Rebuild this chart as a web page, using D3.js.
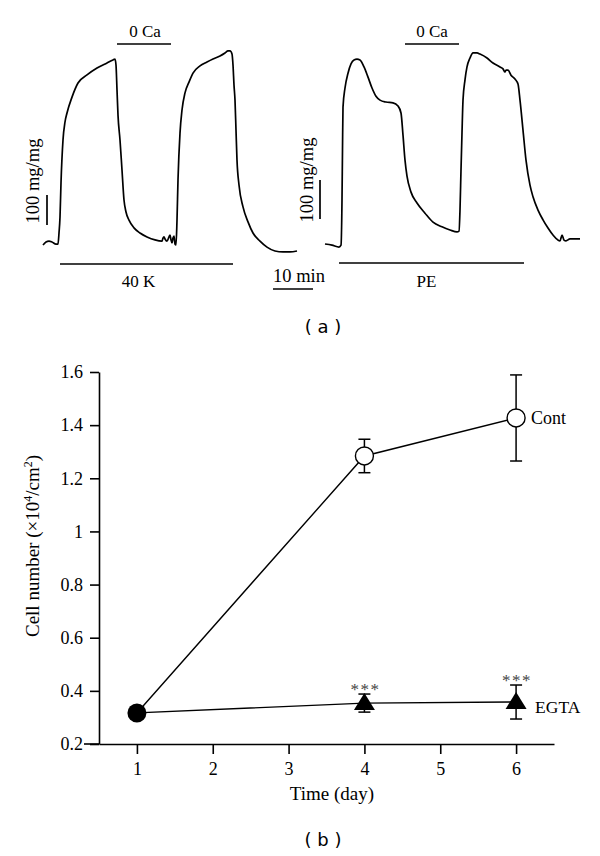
<!DOCTYPE html>
<html><head><meta charset="utf-8">
<script src="https://cdn.jsdelivr.net/npm/d3@7"></script>
<style>
html,body{margin:0;padding:0;background:#fff;}
svg{display:block;}
</style>
</head><body>
<svg id="chart" width="600" height="856"></svg>
<script>
// ---------- Panel (a): tension traces, [time (min), tension (mg/mg)] ----------
const trace40K = [
 [0,0],[0.75,10],[1.5,13],[2.25,10],[3.25,3],[3.75,3],[4,40],[4.25,93],[4.5,207],[5,350],[5.5,410],[6,440],
 [7.25,493],[8.75,540],[11,567],[13.5,590],[16,607],[17.5,617],[18,620],[18.25,600],[18.5,517],[18.75,433],
 [19.25,350],[19.75,250],[20.25,150],[20.75,110],[21.5,83],[22.75,57],[24.25,40],[26,27],[28,17],[29.75,13],
 [30,23],[30.25,27],[30.5,20],[31,13],[31.5,27],[31.75,33],[32,17],[32.25,7],[32.5,23],[32.75,30],[33,3],
 [33.25,0],[33.5,83],[33.75,217],[34.25,373],[34.75,450],[35.5,507],[36.5,543],[37.5,573],[39.25,597],
 [41,610],[42.5,620],[44.25,630],[45.5,640],[46.25,647],[46.75,647],[47.25,637],[47.5,600],[47.75,533],
 [48,483],[48.25,383],[48.5,283],[49,200],[50,127],[51.25,77],[52.5,40],[54.25,13],[56,-7],[58,-20],
 [60,-23],[61.75,-23],[63.5,-20]
];
const tracePE = [
 [0,0],[1.75,-3],[3.5,-8],[4,-3],[4.25,113],[4.375,241],[4.5,351],[5,400],[5.75,438],[6.5,462],[7.25,472],
 [8,474],[8.75,472],[9.75,454],[10.75,428],[11.75,400],[12.75,379],[13.75,369],[15.25,364],[17,362],
 [18.25,354],[19,336],[19.5,279],[20,215],[20.5,174],[21.5,133],[23,105],[25,79],[27,56],[29.25,44],
 [31.25,36],[33,31],[33.5,33],[33.75,87],[34,190],[34.25,285],[34.5,369],[35,421],[35.5,454],[36.25,477],
 [37,490],[38,490],[38.75,487],[40.5,477],[42,464],[43.75,454],[44.5,449],[45,441],[45.25,446],[45.75,446],
 [46.5,433],[47.5,423],[48.25,410],[48.75,369],[49.5,292],[50.25,215],[51.25,151],[52,121],[53.25,87],
 [54.5,62],[55.75,41],[57,23],[58.25,10],[58.75,8],[59.25,23],[59.75,10],[60.25,8],[61.25,13],[63.75,13]
];
// bars: [start min, end min]
const zeroCaLeft = [18.5, 32];
const k40Bar = [4.25, 47.5];
const zeroCaRight = [20, 33.5];
const peBar = [3.5, 49.75];
const timeScaleMin = 10;       // "10 min"
const tensionScale = 100;      // "100 mg/mg"

// ---------- Panel (b): cell number ----------
const days = [1, 4, 6];
const contMean = [0.317, 1.284, 1.427];
const contErr  = [0, 0.063, 0.162];
const egtaMean = [0.317, 0.354, 0.358];
const egtaErr  = [0, 0.034, 0.064];
const xTicks = [1, 2, 3, 4, 5, 6];
const yTicks = [0.2, 0.4, 0.6, 0.8, 1.0, 1.2, 1.4, 1.6];
const yTickLabels = ["0.2", "0.4", "0.6", "0.8", "1", "1.2", "1.4", "1.6"];
const sigDays = [4, 6];
const sigLabel = "***";

const svg = d3.select("#chart");
const SERIF = "'Liberation Serif','Times New Roman',serif";
const SANS = "'DejaVu Sans','Liberation Sans',sans-serif";

// ---- Panel (a) ----
const xL = d3.scaleLinear().domain([0, 1]).range([43, 47]);
const yL = d3.scaleLinear().domain([0, 100]).range([245, 215]);
const xR = d3.scaleLinear().domain([0, 1]).range([325, 329]);
const yR = d3.scaleLinear().domain([0, 100]).range([244, 205]);

const gA = svg.append("g");
function drawTrace(data, xs, ys) {
  gA.append("path").datum(data)
    .attr("d", d3.line().x(d => xs(d[0])).y(d => ys(d[1])).curve(d3.curveMonotoneX))
    .attr("fill", "none").attr("stroke", "#000").attr("stroke-width", 1.7)
    .attr("stroke-linejoin", "round");
}
drawTrace(trace40K, xL, yL);
drawTrace(tracePE, xR, yR);

function hbar(x0, x1, y) {
  gA.append("line").attr("x1", x0).attr("x2", x1).attr("y1", y).attr("y2", y)
    .attr("stroke", "#000").attr("stroke-width", 1.6);
}
function label(x, y, txt, size, anchor, font) {
  return gA.append("text").attr("x", x).attr("y", y).attr("text-anchor", anchor || "middle")
    .attr("font-family", font || SERIF).attr("font-size", size).attr("fill", "#000").text(txt);
}
// 0 Ca bars
hbar(xL(zeroCaLeft[0]), xL(zeroCaLeft[1]), 44);
label((xL(zeroCaLeft[0]) + xL(zeroCaLeft[1])) / 2 + 1, 37, "0 Ca", 17);
hbar(xR(zeroCaRight[0]), xR(zeroCaRight[1]), 44);
label((xR(zeroCaRight[0]) + xR(zeroCaRight[1])) / 2, 37, "0 Ca", 17);
// 40 K and PE bars
hbar(xL(k40Bar[0]), xL(k40Bar[1]), 264);
label((xL(k40Bar[0]) + xL(k40Bar[1])) / 2 - 8, 287, "40 K", 17);
hbar(xR(peBar[0]), xR(peBar[1]), 263);
label((xR(peBar[0]) + xR(peBar[1])) / 2 - 5, 287, "PE", 17);
// 10 min scale bar
const tb0 = 273;
hbar(tb0, tb0 + (xL(timeScaleMin) - xL(0)), 289);
label(tb0, 282, "10 min", 18.5, "start");
// 100 mg/mg scale bars
gA.append("line").attr("x1", 47).attr("x2", 47).attr("y1", 225).attr("y2", 225 - (yL(0) - yL(tensionScale)))
  .attr("stroke", "#000").attr("stroke-width", 1.7);
gA.append("text").attr("transform", "translate(39,181) rotate(-90)").attr("text-anchor", "middle")
  .attr("font-family", SERIF).attr("font-size", 18.5).text("100 mg/mg");
gA.append("line").attr("x1", 320).attr("x2", 320).attr("y1", 219).attr("y2", 219 - (yR(0) - yR(tensionScale)))
  .attr("stroke", "#000").attr("stroke-width", 1.7);
gA.append("text").attr("transform", "translate(313,180) rotate(-90)").attr("text-anchor", "middle")
  .attr("font-family", SERIF).attr("font-size", 18.5).text("100 mg/mg");
// (a)
label(323, 333, "( a )", 18, "middle", SANS);

// ---- Panel (b) ----
const x = d3.scaleLinear().domain([0.5, 6.5]).range([99, 554]);
const y = d3.scaleLinear().domain([0.2, 1.6]).range([744, 372]);
const gB = svg.append("g");

const yAxis = gB.append("g").attr("transform", "translate(99,0)")
  .call(d3.axisLeft(y).tickValues(yTicks).tickSize(9).tickSizeOuter(0).tickPadding(7)
    .tickFormat((d, i) => yTickLabels[i]));
const xAxis = gB.append("g").attr("transform", "translate(0,744)")
  .call(d3.axisBottom(x).tickValues(xTicks).tickSize(10).tickSizeOuter(0).tickPadding(8)
    .tickFormat(d3.format("d")));
[yAxis, xAxis].forEach(a => {
  a.selectAll("path.domain").attr("stroke", "#000").attr("stroke-width", 1.6);
  a.selectAll(".tick line").attr("stroke", "#000").attr("stroke-width", 1.6);
  a.selectAll(".tick text").attr("font-family", SERIF).attr("font-size", 18).attr("fill", "#000");
});
// x-axis line extends slightly left of the y axis, as in the original
gB.append("line").attr("x1", 84).attr("x2", 99).attr("y1", 744).attr("y2", 744)
  .attr("stroke", "#000").attr("stroke-width", 1.6);

// axis titles
gB.append("text").attr("x", 332).attr("y", 800).attr("text-anchor", "middle")
  .attr("font-family", SERIF).attr("font-size", 19).text("Time (day)");
const yt = gB.append("text").attr("transform", "translate(39,546) rotate(-90)").attr("text-anchor", "middle")
  .attr("font-family", SERIF).attr("font-size", 19);
yt.append("tspan").text("Cell number (×10");
yt.append("tspan").attr("font-size", 12).attr("dy", -7).text("4");
yt.append("tspan").attr("dy", 7).text("/cm");
yt.append("tspan").attr("font-size", 12).attr("dy", -7).text("2");
yt.append("tspan").attr("dy", 7).text(")");

// lines
const line = d3.line().x(d => x(d[0])).y(d => y(d[1]));
const contData = days.map((d, i) => [d, contMean[i], contErr[i]]);
const egtaData = days.map((d, i) => [d, egtaMean[i], egtaErr[i]]);
[contData, egtaData].forEach(data => {
  gB.append("path").datum(data).attr("d", line).attr("fill", "none")
    .attr("stroke", "#000").attr("stroke-width", 1.4);
});
// error bars
function errBars(data) {
  data.filter(d => d[2] > 0).forEach(d => {
    const cx = x(d[0]);
    gB.append("line").attr("x1", cx).attr("x2", cx).attr("y1", y(d[1] - d[2])).attr("y2", y(d[1] + d[2]))
      .attr("stroke", "#000").attr("stroke-width", 1.5);
    [d[1] - d[2], d[1] + d[2]].forEach(v => {
      gB.append("line").attr("x1", cx - 6).attr("x2", cx + 6).attr("y1", y(v)).attr("y2", y(v))
        .attr("stroke", "#000").attr("stroke-width", 1.5);
    });
  });
}
errBars(contData);
errBars(egtaData);

// markers
// EGTA triangles (days after 1)
egtaData.slice(1).forEach(d => {
  const cx = x(d[0]), cy = y(d[1]);
  gB.append("path").attr("d", `M${cx},${cy - 10}L${cx + 10.5},${cy + 7}L${cx - 10.5},${cy + 7}Z`)
    .attr("fill", "#000");
});
// Cont open circles
contData.slice(1).forEach(d => {
  gB.append("circle").attr("cx", x(d[0])).attr("cy", y(d[1])).attr("r", 9)
    .attr("fill", "#fff").attr("stroke", "#000").attr("stroke-width", 1.4);
});
// shared day-1 filled circle
gB.append("circle").attr("cx", x(days[0])).attr("cy", y(contMean[0])).attr("r", 9.5).attr("fill", "#000");

// significance stars
egtaData.filter(d => sigDays.includes(d[0])).forEach(d => {
  gB.append("text").attr("x", x(d[0]) + 1).attr("y", y(d[1] + d[2]) + 1).attr("text-anchor", "middle")
    .attr("font-family", SERIF).attr("font-size", 17).attr("letter-spacing", 1.5)
    .attr("fill", "#444").text(sigLabel);
});

// series labels
gB.append("text").attr("x", x(6) + 15).attr("y", y(contMean[2]) + 6)
  .attr("font-family", SERIF).attr("font-size", 18).text("Cont");
gB.append("text").attr("x", x(6) + 19).attr("y", y(egtaMean[2]) + 11)
  .attr("font-family", SERIF).attr("font-size", 17.5).text("EGTA");

// (b)
gB.append("text").attr("x", 323).attr("y", 846).attr("text-anchor", "middle")
  .attr("font-family", SANS).attr("font-size", 18).text("( b )");
</script>
</body></html>
